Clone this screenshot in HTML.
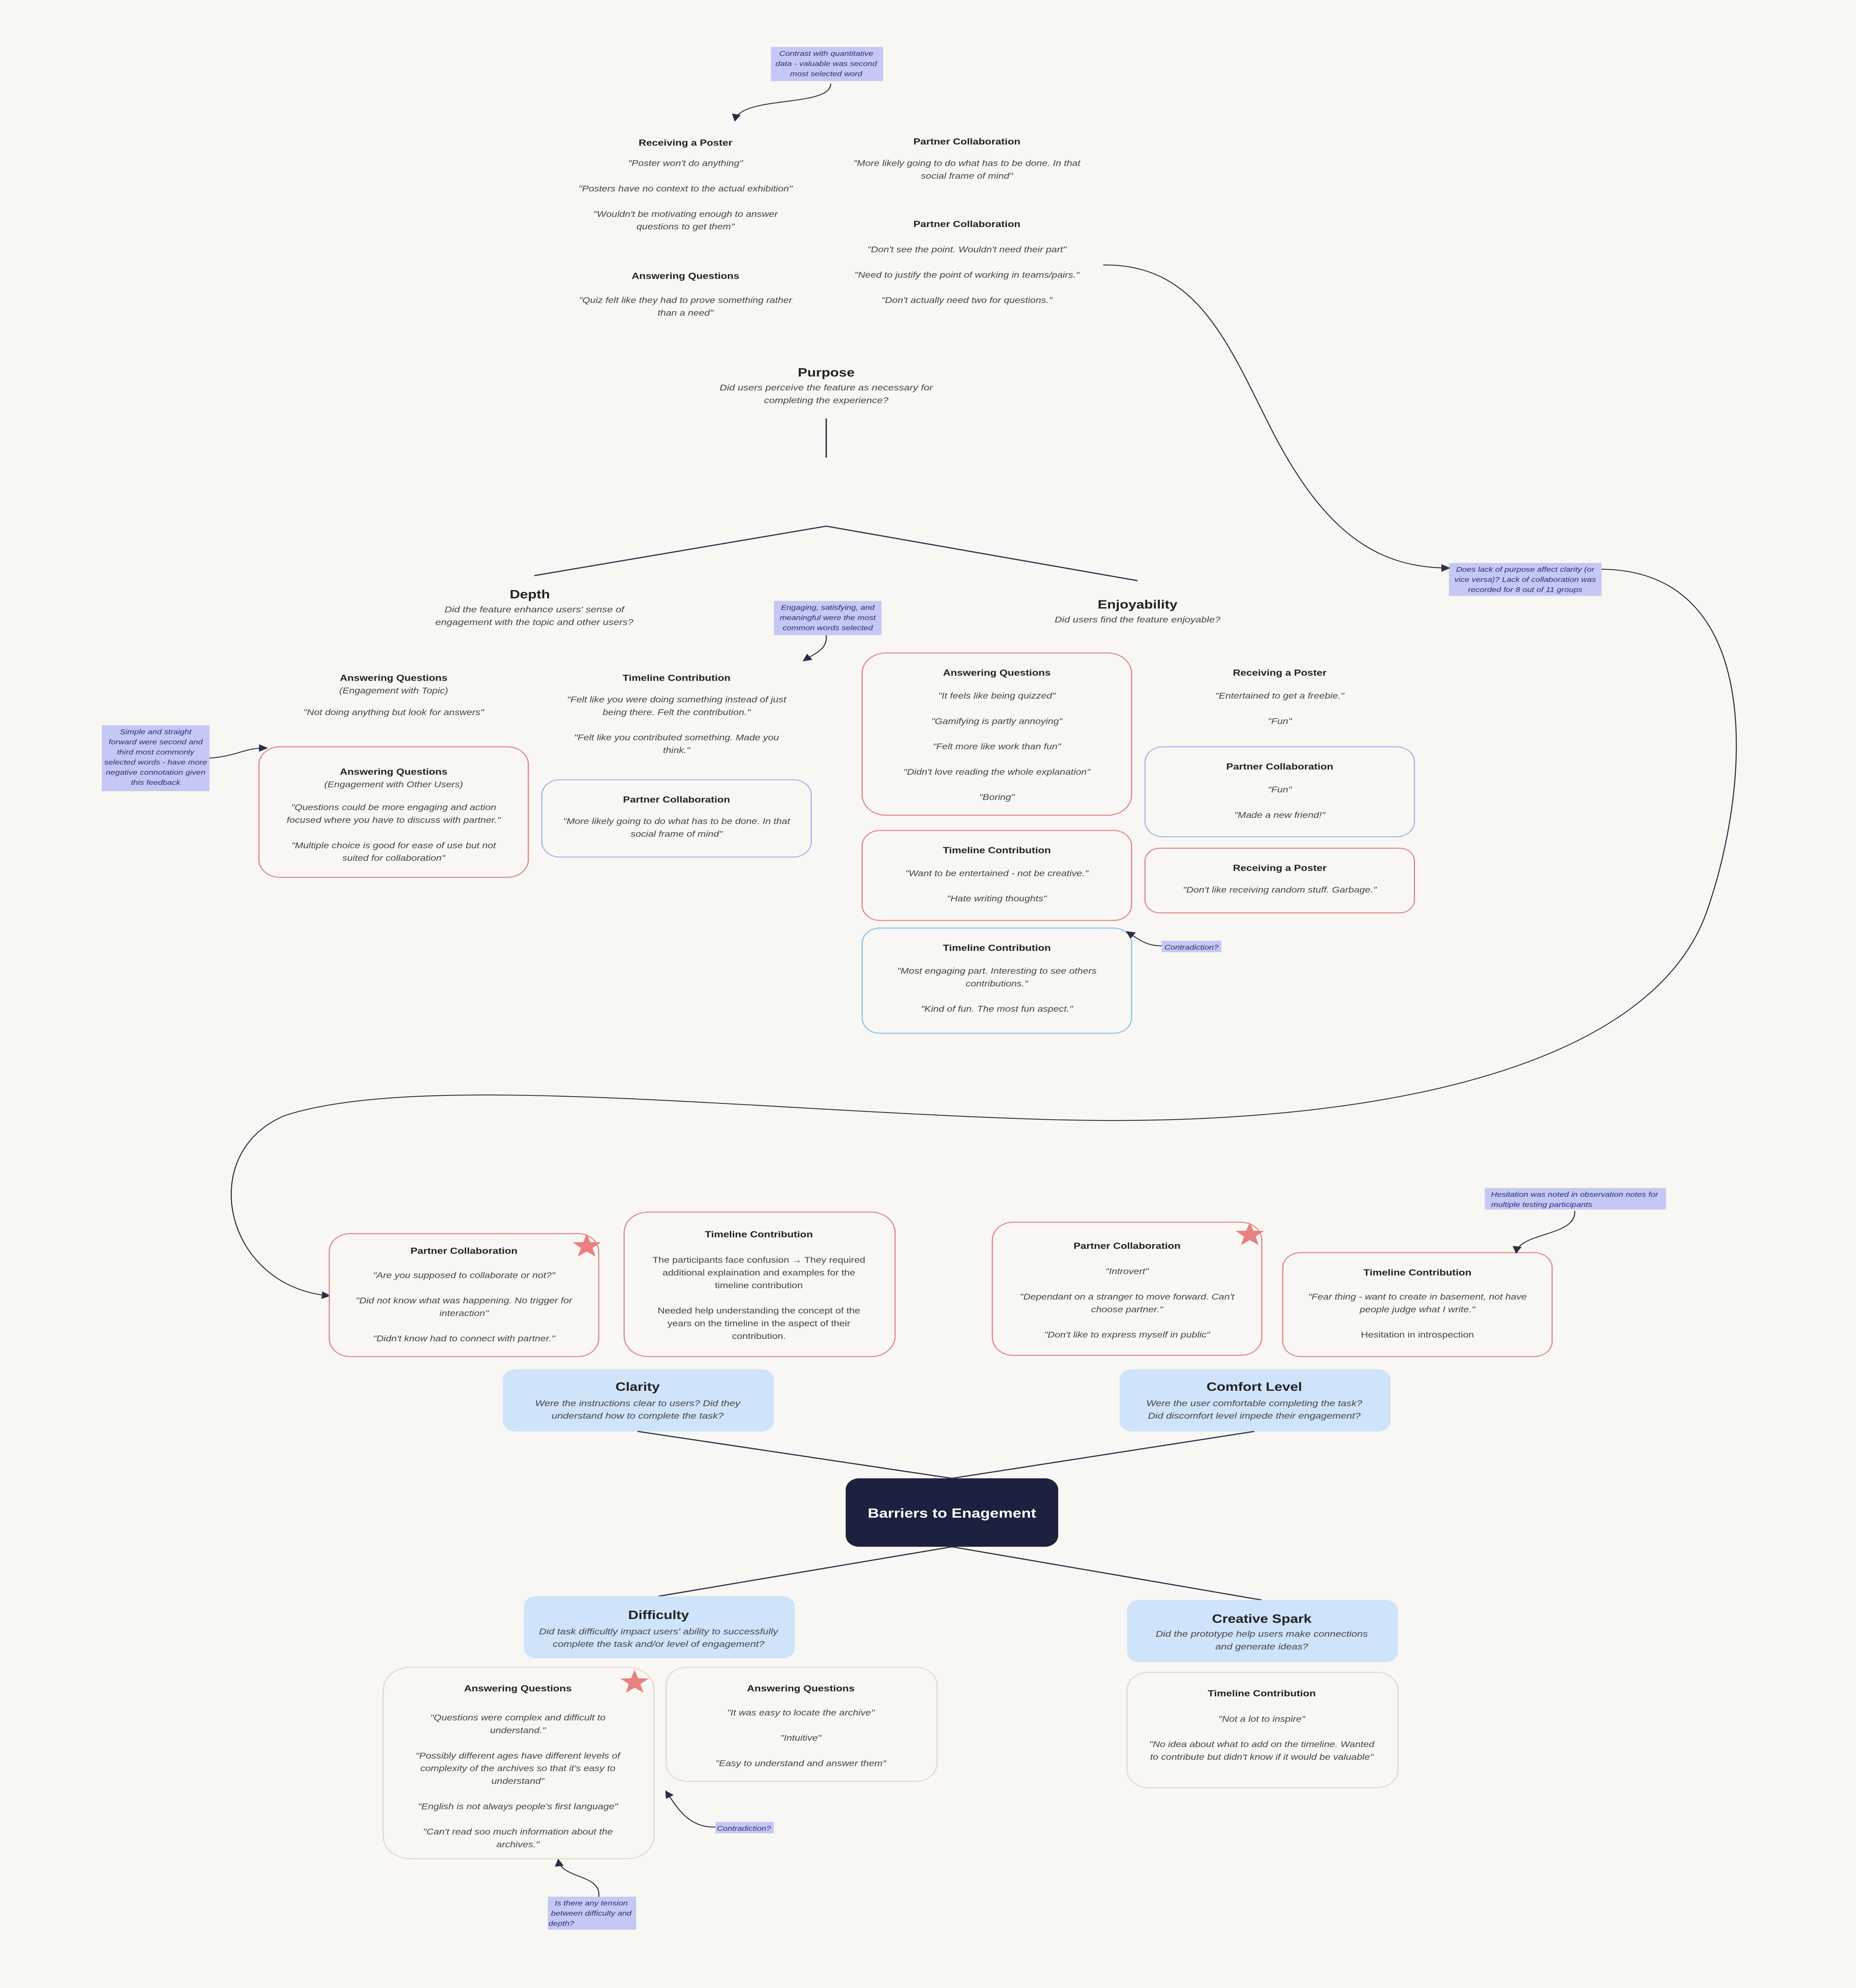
<!DOCTYPE html>
<html><head><meta charset="utf-8"><style>
html,body{margin:0;padding:0;background:#f8f7f3;width:100%;height:100%;overflow:hidden;}
svg{display:block;width:100vw;height:100vh}
text{font-family:"Liberation Sans",sans-serif;text-anchor:middle}
.t{font-weight:bold;font-size:7px;fill:#222}
.q{font-style:italic;font-size:6.6px;fill:#444}
.p{font-size:6.6px;fill:#444}
.h{font-weight:bold;font-size:9.5px;fill:#222}
.s{font-style:italic;font-size:6.8px;fill:#444}
.n{font-style:italic;font-size:5.6px;fill:#2a2f6e}
.nb{fill:#c5c8f5}
.r{fill:#f8f7f3;stroke:#e08a8a;stroke-width:0.8}
.b{fill:#f8f7f3;stroke:#a8b4ef;stroke-width:0.8}
.lb{fill:#f8f7f3;stroke:#8cc3e8;stroke-width:0.8}
.g{fill:#f8f7f3;stroke:#e3d9cc;stroke-width:0.8}
.c{fill:#cfe3fb}
.ln{stroke:#2a2f45;stroke-width:0.9;fill:none}
.ar{stroke:#2a2f45;stroke-width:0.7;fill:none}
.st{fill:#e98080}
</style></head><body>
<svg viewBox="0 0 1240 1568" preserveAspectRatio="none" xmlns="http://www.w3.org/2000/svg">
<defs><marker id="a" markerWidth="6" markerHeight="6" refX="5" refY="3" orient="auto" markerUnits="userSpaceOnUse"><path d="M0,0 L6,3 L0,6 z" fill="#2a2f45"/></marker>
<polygon id="star" class="st" points="0,-10 2.4,-3.3 9.5,-3.1 3.9,1.3 5.9,8.1 0,4.1 -5.9,8.1 -3.9,1.3 -9.5,-3.1 -2.4,-3.3"/></defs>
<rect width="1240" height="1568" fill="#f8f7f3"/>

<rect class="nb" x="515" y="37" width="75" height="27"/>
<text class="n" x="552" y="44">Contrast with quantitative</text>
<text class="n" x="552" y="52">data - valuable was second</text>
<text class="n" x="552" y="60">most selected word</text>
<path class="ar" marker-end="url(#a)" d="M555,66 C555,85 495,75 491,95"/>

<text class="t" x="458" y="115">Receiving a Poster</text>
<text class="q" x="458" y="131">"Poster won't do anything"</text>
<text class="q" x="458" y="151">"Posters have no context to the actual exhibition"</text>
<text class="q" x="458" y="171">"Wouldn't be motivating enough to answer</text>
<text class="q" x="458" y="181">questions to get them"</text>
<text class="t" x="458" y="220">Answering Questions</text>
<text class="q" x="458" y="239">"Quiz felt like they had to prove something rather</text>
<text class="q" x="458" y="249">than a need"</text>

<text class="t" x="646" y="114">Partner Collaboration</text>
<text class="q" x="646" y="131">"More likely going to do what has to be done. In that</text>
<text class="q" x="646" y="141">social frame of mind"</text>
<text class="t" x="646" y="179">Partner Collaboration</text>
<text class="q" x="646" y="199">"Don't see the point. Wouldn't need their part"</text>
<text class="q" x="646" y="219">"Need to justify the point of working in teams/pairs."</text>
<text class="q" x="646" y="239">"Don't actually need two for questions."</text>

<text class="h" x="552" y="297">Purpose</text>
<text class="s" x="552" y="308">Did users perceive the feature as necessary for</text>
<text class="s" x="552" y="318">completing the experience?</text>
<path class="ln" d="M552,330 L552,361 M357,454 L552,415 L760,458"/>

<text class="h" x="354" y="472">Depth</text>
<text class="s" x="357" y="483">Did the feature enhance users' sense of</text>
<text class="s" x="357" y="493">engagement with the topic and other users?</text>
<text class="h" x="760" y="480">Enjoyability</text>
<text class="s" x="760" y="491">Did users find the feature enjoyable?</text>

<rect class="nb" x="517" y="474" width="72" height="27"/>
<text class="n" x="553" y="481">Engaging, satisfying, and</text>
<text class="n" x="553" y="489">meaningful were the most</text>
<text class="n" x="553" y="497">common words selected</text>
<path class="ar" marker-end="url(#a)" d="M552,501 C553,512 545,515 537,521"/>

<text class="t" x="263" y="537">Answering Questions</text>
<text class="q" x="263" y="547">(Engagement with Topic)</text>
<text class="q" x="263" y="564">"Not doing anything but look for answers"</text>
<text class="t" x="452" y="537">Timeline Contribution</text>
<text class="q" x="452" y="554">"Felt like you were doing something instead of just</text>
<text class="q" x="452" y="564">being there. Felt the contribution."</text>
<text class="q" x="452" y="584">"Felt like you contributed something. Made you</text>
<text class="q" x="452" y="594">think."</text>

<rect class="nb" x="68" y="572" width="72" height="52"/>
<text class="n" x="104" y="579">Simple and straight</text>
<text class="n" x="104" y="587">forward were second and</text>
<text class="n" x="104" y="595">third most commonly</text>
<text class="n" x="104" y="603">selected words - have more</text>
<text class="n" x="104" y="611">negative connotation given</text>
<text class="n" x="104" y="619">this feedback</text>
<path class="ar" marker-end="url(#a)" d="M140,598 C160,596 162,590 178,590"/>

<rect class="r" x="173" y="589" width="180" height="103" rx="14"/>
<text class="t" x="263" y="611">Answering Questions</text>
<text class="q" x="263" y="621">(Engagement with Other Users)</text>
<text class="q" x="263" y="639">"Questions could be more engaging and action</text>
<text class="q" x="263" y="649">focused where you have to discuss with partner."</text>
<text class="q" x="263" y="669">"Multiple choice is good for ease of use but not</text>
<text class="q" x="263" y="679">suited for collaboration"</text>

<rect class="b" x="362" y="615" width="180" height="61" rx="12"/>
<text class="t" x="452" y="633">Partner Collaboration</text>
<text class="q" x="452" y="650">"More likely going to do what has to be done. In that</text>
<text class="q" x="452" y="660">social frame of mind"</text>

<rect class="r" x="576" y="515" width="180" height="128" rx="16"/>
<text class="t" x="666" y="533">Answering Questions</text>
<text class="q" x="666" y="551">"It feels like being quizzed"</text>
<text class="q" x="666" y="571">"Gamifying is partly annoying"</text>
<text class="q" x="666" y="591">"Felt more like work than fun"</text>
<text class="q" x="666" y="611">"Didn't love reading the whole explanation"</text>
<text class="q" x="666" y="631">"Boring"</text>

<rect class="r" x="576" y="655" width="180" height="71" rx="12"/>
<text class="t" x="666" y="673">Timeline Contribution</text>
<text class="q" x="666" y="691">"Want to be entertained - not be creative."</text>
<text class="q" x="666" y="711">"Hate writing thoughts"</text>

<rect class="lb" x="576" y="732" width="180" height="83" rx="12"/>
<text class="t" x="666" y="750">Timeline Contribution</text>
<text class="q" x="666" y="768">"Most engaging part. Interesting to see others</text>
<text class="q" x="666" y="778">contributions."</text>
<text class="q" x="666" y="798">"Kind of fun. The most fun aspect."</text>

<text class="t" x="855" y="533">Receiving a Poster</text>
<text class="q" x="855" y="551">"Entertained to get a freebie."</text>
<text class="q" x="855" y="571">"Fun"</text>
<rect class="b" x="765" y="589" width="180" height="71" rx="12"/>
<text class="t" x="855" y="607">Partner Collaboration</text>
<text class="q" x="855" y="625">"Fun"</text>
<text class="q" x="855" y="645">"Made a new friend!"</text>
<rect class="r" x="765" y="669" width="180" height="51" rx="10"/>
<text class="t" x="855" y="687">Receiving a Poster</text>
<text class="q" x="855" y="704">"Don't like receiving random stuff. Garbage."</text>

<rect class="nb" x="776" y="742" width="40" height="9"/>
<text class="n" x="796" y="749">Contradiction?</text>
<path class="ar" marker-end="url(#a)" d="M776,746 C765,746 760,740 753,735"/>

<rect class="nb" x="968" y="444" width="102" height="26"/>
<text class="n" x="1019" y="451">Does lack of purpose affect clarity (or</text>
<text class="n" x="1019" y="459">vice versa)? Lack of collaboration was</text>
<text class="n" x="1019" y="467">recorded for 8 out of 11 groups</text>
<path class="ar" marker-end="url(#a)" d="M737,209 C800,208 820,270 850,340 C885,420 920,448 968,448"/>
<path class="ar" marker-end="url(#a)" d="M1070,449 C1180,450 1170,620 1140,720 C1100,850 900,890 700,883 C500,876 280,845 190,880 C130,910 150,1015 220,1022"/>

<rect class="r" x="220" y="973" width="180" height="97" rx="14"/>
<text class="t" x="310" y="989">Partner Collaboration</text>
<text class="q" x="310" y="1008">"Are you supposed to collaborate or not?"</text>
<text class="q" x="310" y="1028">"Did not know what was happening. No trigger for</text>
<text class="q" x="310" y="1038">interaction"</text>
<text class="q" x="310" y="1058">"Didn't know had to connect with partner."</text>
<use href="#star" x="392" y="983"/>

<rect class="r" x="417" y="956" width="181" height="114" rx="16"/>
<text class="t" x="507" y="976">Timeline Contribution</text>
<text class="p" x="507" y="996">The participants face confusion → They required</text>
<text class="p" x="507" y="1006">additional explaination and examples for the</text>
<text class="p" x="507" y="1016">timeline contribution</text>
<text class="p" x="507" y="1036">Needed help understanding the concept of the</text>
<text class="p" x="507" y="1046">years on the timeline in the aspect of their</text>
<text class="p" x="507" y="1056">contribution.</text>

<rect class="r" x="663" y="964" width="180" height="105" rx="14"/>
<text class="t" x="753" y="985">Partner Collaboration</text>
<text class="q" x="753" y="1005">"Introvert"</text>
<text class="q" x="753" y="1025">"Dependant on a stranger to move forward. Can't</text>
<text class="q" x="753" y="1035">choose partner."</text>
<text class="q" x="753" y="1055">"Don't like to express myself in public"</text>
<use href="#star" x="835" y="974"/>

<rect class="r" x="857" y="988" width="180" height="82" rx="12"/>
<text class="t" x="947" y="1006">Timeline Contribution</text>
<text class="q" x="947" y="1025">"Fear thing - want to create in basement, not have</text>
<text class="q" x="947" y="1035">people judge what I write."</text>
<text class="p" x="947" y="1055">Hesitation in introspection</text>

<rect class="nb" x="992" y="937" width="121" height="17"/>
<text class="n" x="1052" y="944">Hesitation was noted in observation notes for</text>
<text class="n" x="1030" y="952">multiple testing participants</text>
<path class="ar" marker-end="url(#a)" d="M1052,955 C1054,975 1015,972 1013,988"/>

<rect class="c" x="336" y="1080" width="181" height="49" rx="8"/>
<text class="h" x="426" y="1097">Clarity</text>
<text class="s" x="426" y="1109">Were the instructions clear to users? Did they</text>
<text class="s" x="426" y="1119">understand how to complete the task?</text>
<rect class="c" x="748" y="1080" width="181" height="49" rx="8"/>
<text class="h" x="838" y="1097">Comfort Level</text>
<text class="s" x="838" y="1109">Were the user comfortable completing the task?</text>
<text class="s" x="838" y="1119">Did discomfort level impede their engagement?</text>

<path class="ln" d="M426,1129 L636,1166 L838,1129 M440,1259 L636,1220 L843,1262"/>
<rect x="565" y="1166" width="142" height="54" rx="9" fill="#1c2140"/>
<text x="636" y="1197" style="font-weight:bold;font-size:10.5px;fill:#fff">Barriers to Enagement</text>

<rect class="c" x="350" y="1259" width="181" height="49" rx="8"/>
<text class="h" x="440" y="1277">Difficulty</text>
<text class="s" x="440" y="1289">Did task difficultly impact users' ability to successfully</text>
<text class="s" x="440" y="1299">complete the task and/or level of  engagement?</text>
<rect class="c" x="753" y="1262" width="181" height="49" rx="8"/>
<text class="h" x="843" y="1280">Creative Spark</text>
<text class="s" x="843" y="1291">Did the prototype help users make connections</text>
<text class="s" x="843" y="1301">and generate ideas?</text>

<rect class="g" x="256" y="1315" width="181" height="151" rx="18"/>
<text class="t" x="346" y="1334">Answering Questions</text>
<text class="q" x="346" y="1357">"Questions were complex and difficult to</text>
<text class="q" x="346" y="1367">understand."</text>
<text class="q" x="346" y="1387">"Possibly different ages have different levels of</text>
<text class="q" x="346" y="1397">complexity of the archives so that it's easy to</text>
<text class="q" x="346" y="1407">understand"</text>
<text class="q" x="346" y="1427">"English is not always people's first language"</text>
<text class="q" x="346" y="1447">"Can't read soo much information about the</text>
<text class="q" x="346" y="1457">archives."</text>
<use href="#star" x="424" y="1327"/>

<rect class="g" x="445" y="1315" width="181" height="90" rx="14"/>
<text class="t" x="535" y="1334">Answering Questions</text>
<text class="q" x="535" y="1353">"It was easy to locate the archive"</text>
<text class="q" x="535" y="1373">"Intuitive"</text>
<text class="q" x="535" y="1393">"Easy to understand and answer them"</text>

<rect class="g" x="753" y="1319" width="181" height="91" rx="14"/>
<text class="t" x="843" y="1338">Timeline Contribution</text>
<text class="q" x="843" y="1358">"Not a lot to inspire"</text>
<text class="q" x="843" y="1378">"No idea about what to add on the timeline. Wanted</text>
<text class="q" x="843" y="1388">to contribute but didn't know if it would be valuable"</text>

<rect class="nb" x="478" y="1437" width="39" height="9"/>
<text class="n" x="497" y="1444">Contradiction?</text>
<path class="ar" marker-end="url(#a)" d="M478,1441 C460,1442 452,1425 445,1413"/>

<rect class="nb" x="366" y="1496" width="59" height="26"/>
<text class="n" x="395" y="1503">Is there any tension</text>
<text class="n" x="395" y="1511">between difficulty and</text>
<text class="n" x="375" y="1519">depth?</text>
<path class="ar" marker-end="url(#a)" d="M400,1496 C402,1478 375,1482 373,1467"/>
</svg>
</body></html>
